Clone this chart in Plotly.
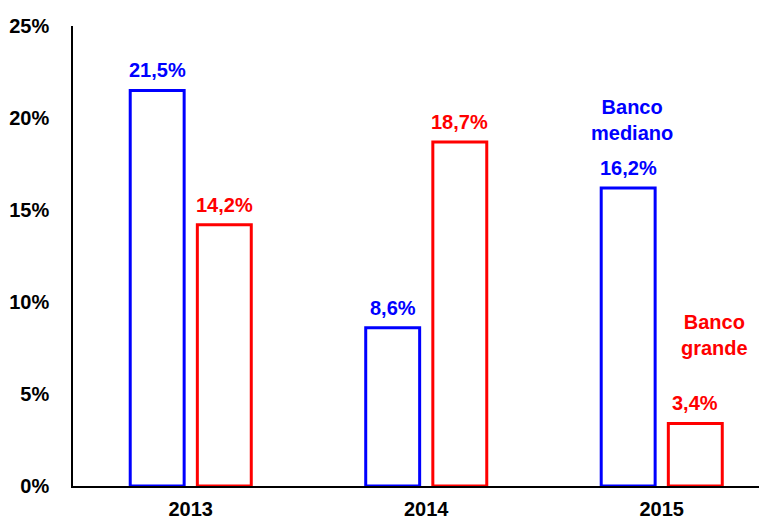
import plotly.graph_objects as go

years = ["2013", "2014", "2015"]
mediano = [21.5, 8.6, 16.2]
grande = [14.2, 18.7, 3.4]
yticks = [0, 5, 10, 15, 20, 25]
yticklabels = ["0%", "5%", "10%", "15%", "20%", "25%"]

BLUE = "#0000FF"
RED = "#FF0000"
FONT = "Liberation Sans, Arial, sans-serif"
FS = 20

W_BAR = 0.229
OFF_M = -0.257
OFF_G = 0.028

fig = go.Figure()
fig.add_trace(go.Bar(
    x=years, y=mediano, width=W_BAR, offset=OFF_M,
    marker=dict(color="white", line=dict(color=BLUE, width=3)),
    name="Banco mediano", showlegend=False,
))
fig.add_trace(go.Bar(
    x=years, y=grande, width=W_BAR, offset=OFF_G,
    marker=dict(color="white", line=dict(color=RED, width=3)),
    name="Banco grande", showlegend=False,
))

def fmt(v):
    return f"{v:.1f}".replace(".", ",") + "%"

for i, v in enumerate(mediano):
    fig.add_annotation(x=i + OFF_M + W_BAR / 2, y=v, xref="x", yref="y", text=fmt(v),
                       showarrow=False, yanchor="bottom", yshift=7,
                       font=dict(color=BLUE, size=FS, family=FONT, weight="bold"))
for i, v in enumerate(grande):
    fig.add_annotation(x=i + OFF_G + W_BAR / 2, y=v, xref="x", yref="y", text=fmt(v),
                       showarrow=False, yanchor="bottom", yshift=7,
                       font=dict(color=RED, size=FS, family=FONT, weight="bold"))

fig.add_annotation(x=1.874, y=19.9, xref="x", yref="y", text="Banco<br>mediano",
                   showarrow=False, font=dict(color=BLUE, size=FS, family=FONT, weight="bold"))
fig.add_annotation(x=2.222, y=8.2, xref="x", yref="y", text="Banco<br>grande",
                   showarrow=False, font=dict(color=RED, size=FS, family=FONT, weight="bold"))

fig.update_layout(
    width=759, height=513,
    margin=dict(l=65, r=0, t=18, b=35, autoexpand=False),
    plot_bgcolor="white", paper_bgcolor="white",
    font=dict(family=FONT, size=FS, color="black", weight="bold"),
    xaxis=dict(type="category", range=[-0.5, 2.447], showline=True, linecolor="black",
               linewidth=1.5, ticks="", showgrid=False, ticklabelstandoff=4,
               tickfont=dict(size=FS, family=FONT, weight="bold", color="black")),
    yaxis=dict(range=[0, 25], tickvals=yticks, ticktext=yticklabels, showline=True,
               linecolor="black", linewidth=1.5, ticks="", showgrid=False, zeroline=False,
               ticklabelstandoff=18,
               tickfont=dict(size=FS, family=FONT, weight="bold", color="black")),
)

fig.write_html("out.html")
